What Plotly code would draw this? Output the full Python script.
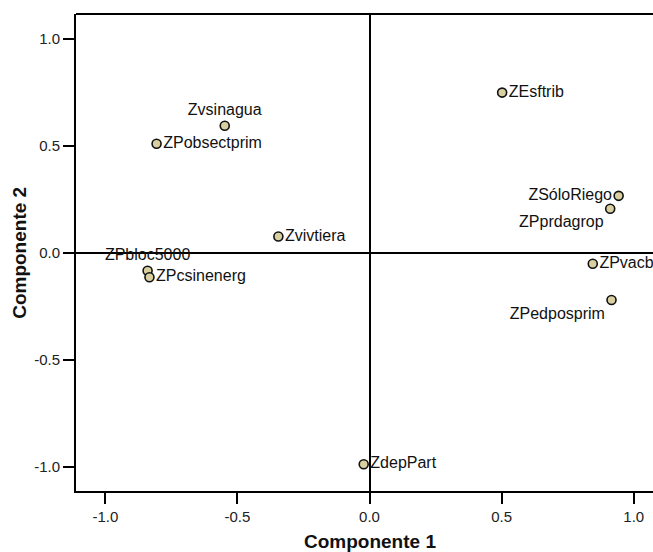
import plotly.graph_objects as go

names = ["Zvsinagua", "ZPobsectprim", "Zvivtiera", "ZPbloc5000", "ZPcsinenerg",
         "ZEsftrib", "ZSóloRiego", "ZPprdagrop", "ZPvacb", "ZPedposprim", "ZdepPart"]
comp1 = [-0.548, -0.806, -0.345, -0.840, -0.833, 0.502, 0.943, 0.911, 0.845, 0.916, -0.022]
comp2 = [0.593, 0.509, 0.076, -0.084, -0.114, 0.748, 0.266, 0.206, -0.051, -0.220, -0.987]
positions = ["top center", "middle right", "middle right", "top center", "middle right",
             "middle right", "middle left", "bottom left", "middle right", "bottom left",
             "middle right"]
tick_vals = [-1.0, -0.5, 0.0, 0.5, 1.0]
tick_text = ["-1.0", "-0.5", "0.0", "0.5", "1.0"]

font_family = "Liberation Sans, Arial, sans-serif"

fig = go.Figure()
fig.add_trace(go.Scatter(
    x=comp1, y=comp2, mode="markers+text", text=names, textposition=positions,
    textfont=dict(family=font_family, size=16, color="#111111"),
    marker=dict(size=9, color="#d8d0a0", line=dict(color="#111111", width=1.6)),
    cliponaxis=True, showlegend=False,
))

axis_common = dict(
    tickvals=tick_vals, ticktext=tick_text,
    showgrid=False, zeroline=True, zerolinecolor="black", zerolinewidth=1.5,
    showline=True, linecolor="black", linewidth=2, mirror=False,
    ticks="outside", ticklen=11, tickwidth=2, tickcolor="black",
    tickfont=dict(family=font_family, size=15, color="#222222"),
)

fig.update_layout(
    width=653, height=552,
    margin=dict(l=76, r=0, t=14, b=61),
    plot_bgcolor="white", paper_bgcolor="white",
    font=dict(family=font_family, size=15, color="#222222"),
    xaxis=dict(range=[-1.111, 1.073], **axis_common),
    yaxis=dict(range=[-1.112, 1.115], **axis_common),
)

fig.add_shape(type="line", xref="paper", yref="paper", x0=0, x1=1, y0=1, y1=1,
              line=dict(color="black", width=2))

fig.add_annotation(text="<b>Componente 1</b>", xref="x", yref="paper", x=0.0, y=0,
                   yshift=-50, showarrow=False, xanchor="center", yanchor="middle",
                   font=dict(family=font_family, size=19, color="#111111"))
fig.add_annotation(text="<b>Componente 2</b>", xref="paper", yref="y", x=0, y=0,
                   xshift=-56, showarrow=False, textangle=-90,
                   xanchor="center", yanchor="middle",
                   font=dict(family=font_family, size=19, color="#111111"))

fig.write_html(
    "out.html",
    config={"displayModeBar": False},
    post_script="document.body.style.margin='0';document.body.style.overflow='hidden';",
)
